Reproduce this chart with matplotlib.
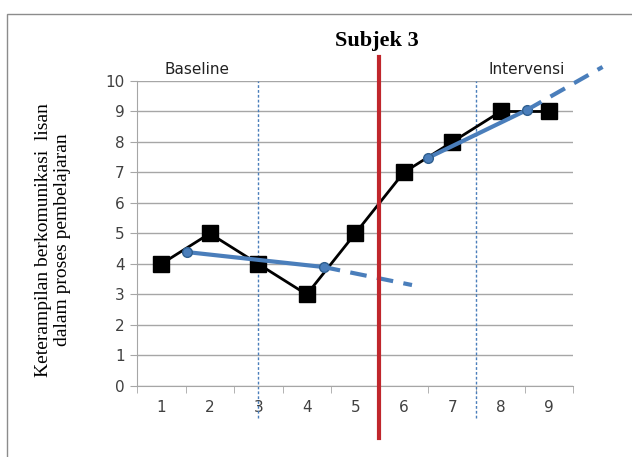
import matplotlib
matplotlib.use("Agg")
import matplotlib.pyplot as plt
from matplotlib.patches import Rectangle

# session scores
sessions = [1, 2, 3, 4, 5, 6, 7, 8, 9]
scores = [4, 5, 4, 3, 5, 7, 8, 9, 9]

# trend lines (split-middle): solid part between the two mid points, then dashed extension
base_solid_x = [1.53, 4.35]
base_solid_y = [4.39, 3.90]
base_dash_x = [4.35, 6.17]
base_dash_y = [3.90, 3.31]
int_solid_x = [6.5, 8.54]
int_solid_y = [7.48, 9.05]
int_dash_x = [8.54, 10.1]
int_dash_y = [9.05, 10.46]

phase_change = 5.5
midlines = [3.0, 7.5]

BLUE = "#4a7ebb"
RED = "#c0262c"
TXT = "#404040"

fig = plt.figure(figsize=(6.32, 4.57), dpi=100)
ax = fig.add_axes([0.2168, 0.1554, 0.6906, 0.6674])

# outer chart frame
fig.patches.append(Rectangle((7 / 632, -0.1), 1.2, 1 - 14 / 457 + 0.1,
                             transform=fig.transFigure, fill=False,
                             edgecolor="#8c8c8c", lw=1.0))

ax.set_xlim(0.5, 9.5)
ax.set_ylim(0, 10)
ax.set_yticks(range(0, 11))
ax.set_xticks(sessions)
ax.set_xticks([s + 0.5 for s in [0] + sessions], minor=True)
ax.grid(axis="y", color="#a6a6a6", lw=1.0)
ax.set_axisbelow(True)
for side in ["top", "right"]:
    ax.spines[side].set_visible(False)
for side in ["left", "bottom"]:
    ax.spines[side].set_color("#a6a6a6")
ax.tick_params(axis="x", which="major", length=0, pad=10, labelsize=11, labelcolor=TXT)
ax.tick_params(axis="x", which="minor", length=5, color="#a6a6a6")
ax.tick_params(axis="y", length=5, color="#a6a6a6", labelsize=11, labelcolor=TXT, pad=4)

for xm in midlines:
    ax.plot([xm, xm], [-1.05, 10], color=BLUE, lw=1.0, ls=(0, (2, 1.5)), clip_on=False, zorder=2)

ax.plot([phase_change, phase_change], [-1.72, 10.8], color=RED, lw=3, clip_on=False, zorder=5)

ax.plot(sessions, scores, color="black", lw=2, marker="s", markersize=11, zorder=3)

ax.plot(base_solid_x, base_solid_y, color=BLUE, lw=3, marker="o", markersize=7,
        markeredgecolor="#2f5f8f", zorder=4)
ax.plot(base_dash_x, base_dash_y, color=BLUE, lw=3, ls=(0, (4, 2.5)), zorder=4)
ax.plot(int_solid_x, int_solid_y, color=BLUE, lw=3, marker="o", markersize=7,
        markeredgecolor="#2f5f8f", zorder=4)
ax.plot(int_dash_x, int_dash_y, color=BLUE, lw=3, ls=(0, (4, 2.5)), clip_on=False, zorder=4)

fig.text(377 / 632, 1 - 41 / 457, "Subjek 3", ha="center", va="center",
         fontsize=16, fontweight="bold", family="Liberation Serif")
fig.text(197 / 632, 1 - 70 / 457, "Baseline", ha="center", va="center",
         fontsize=11, color="#222222")
fig.text(527 / 632, 1 - 70 / 457, "Intervensi", ha="center", va="center",
         fontsize=11, color="#222222")
fig.text(53 / 632, 1 - 240 / 457, "Keterampilan berkomunikasi  lisan\ndalam proses pembelajaran",
         rotation=90, ha="center", va="center", fontsize=14,
         family="Liberation Serif", linespacing=1.15)

fig.savefig("out.png", dpi=100)
